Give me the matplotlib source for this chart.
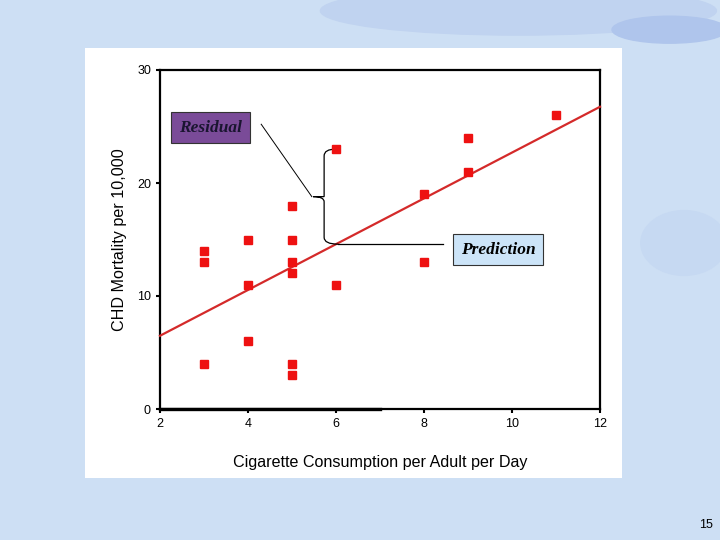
import numpy as np
import matplotlib
matplotlib.use('Agg')
import matplotlib.pyplot as plt
from matplotlib.patches import Rectangle, Ellipse, PathPatch
from matplotlib.path import Path

# cigarettes per adult per day vs CHD mortality per 10,000
cigs = [11, 9, 9, 8, 8, 6, 6, 5, 5, 5, 5, 5, 5, 4, 4, 4, 3, 3, 3]
chd = [26, 24, 21, 19, 13, 23, 11, 18, 15, 13, 12, 4, 3, 15, 11, 6, 14, 13, 4]
x_ticks = [2, 4, 6, 8, 10, 12]
y_ticks = [0, 10, 20, 30]

slope, intercept = np.polyfit(cigs, chd, 1)

fig = plt.figure(figsize=(7.2, 5.4), dpi=100)
fig.patch.set_facecolor('#cddff4')

# slide decorations
for cx, cy, w, h, c in [(0.72, 0.98, 0.55, 0.09, '#c0d3f0'), (0.93, 0.945, 0.16, 0.05, '#afc5ec'),
                        (0.95, 0.55, 0.12, 0.12, '#c6d9f2')]:
    fig.patches.append(Ellipse((cx, cy), w, h, transform=fig.transFigure, color=c, zorder=0))

# white panel
fig.patches.append(Rectangle((85 / 720, 1 - 478 / 540), 537 / 720, 430 / 540,
                             transform=fig.transFigure, facecolor='white', edgecolor='none', zorder=1))

ax = fig.add_axes([160 / 720, 1 - 409 / 540, 440 / 720, 339 / 540])
ax.set_zorder(2)
ax.set_facecolor('white')

xs = np.array([2, 12])
ax.plot(xs, intercept + slope * xs, color='#d42a2a', lw=1.6, zorder=3, clip_on=False)
ax.plot(cigs, chd, 's', color='#ee1111', markersize=5.5, zorder=4, clip_on=False)

ax.set_xlim(2, 12)
ax.set_ylim(0, 30)
ax.set_xticks(x_ticks)
ax.set_yticks(y_ticks)
for s in ax.spines.values():
    s.set_linewidth(1.6)
ax.tick_params(direction='out', length=3, width=1.5, labelsize=9, colors='black')
ax.set_xlabel('Cigarette Consumption per Adult per Day', fontsize=11.6, labelpad=18,
              family='Liberation Sans')
ax.set_ylabel('CHD Mortality per 10,000', fontsize=11.6, family='Liberation Sans')
ax.yaxis.set_label_coords(-0.075, 0.5)
for lab in ax.get_xticklabels() + ax.get_yticklabels():
    lab.set_family('Liberation Sans')
ax.axhline(0, xmin=0, xmax=0.5, color='black', lw=2.4, clip_on=False, zorder=5)

# residual brace between observed point and fitted value at x = 6
xo, yo = 6, 23
yf = intercept + slope * xo
ym = (yo + yf) / 2
xb = 5.73
verts = [(xo, yo), (xb, yo), (xb, yo - 0.6), (xb, yo - 0.6),
         (xb, ym + 0.45), (xb, ym + 0.45), (xb, ym), (5.48, ym),
         (xb, ym), (xb, ym - 0.45), (xb, ym - 0.45),
         (xb, yf + 0.6), (xb, yf), (xo + 0.05, yf)]
codes = [Path.MOVETO, Path.CURVE3, Path.CURVE3, Path.LINETO,
         Path.LINETO, Path.CURVE3, Path.CURVE3, Path.LINETO,
         Path.CURVE3, Path.CURVE3, Path.LINETO,
         Path.LINETO, Path.CURVE3, Path.CURVE3]
ax.add_patch(PathPatch(Path(verts, codes), facecolor='none', edgecolor='black', lw=0.9, zorder=3))

ax.plot([4.3, 5.45], [25.2, ym], color='black', lw=0.7, zorder=3)
ax.plot([xo + 0.05, 8.43], [yf, yf], color='black', lw=0.9, zorder=3)

ax.text(3.15, 24.9, 'Residual', fontsize=12.5, fontweight='bold', style='italic',
        family='Liberation Serif', color='#1a1530', ha='center', va='center', zorder=6,
        bbox=dict(boxstyle='square,pad=0.45', facecolor='#7a4b98', edgecolor='#333333', lw=0.8))
ax.text(9.68, 14.1, 'Prediction', fontsize=12.5, fontweight='bold', style='italic',
        family='Liberation Serif', color='black', ha='center', va='center', zorder=6,
        bbox=dict(boxstyle='square,pad=0.45', facecolor='#cce4f8', edgecolor='#333333', lw=0.8))

fig.text(706 / 720, 1 - 525 / 540, '15', fontsize=9, ha='center', va='center', family='Liberation Sans')

fig.savefig('out.png', dpi=100, facecolor=fig.get_facecolor())
